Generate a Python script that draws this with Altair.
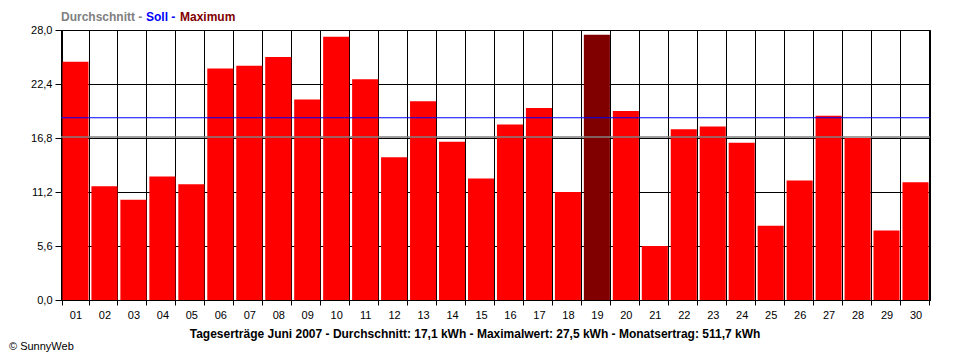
import altair as alt
import pandas as pd

# ---- data ----
days = ["01", "02", "03", "04", "05", "06", "07", "08", "09", "10",
        "11", "12", "13", "14", "15", "16", "17", "18", "19", "20",
        "21", "22", "23", "24", "25", "26", "27", "28", "29", "30"]
kwh = [24.7, 11.8, 10.4, 12.8, 12.0, 24.0, 24.3, 25.2, 20.8, 27.3,
       22.9, 14.8, 20.6, 16.4, 12.6, 18.2, 19.9, 11.2, 27.5, 19.6,
       5.6, 17.7, 18.0, 16.3, 7.7, 12.4, 19.1, 16.8, 7.2, 12.2]
soll_value = [18.9]
avg_value = [16.9]
y_ticks = [0.0, 5.6, 11.2, 16.8, 22.4, 28.0]

legend_parts = ["Durchschnitt - ", "Soll - ", "Maximum"]
legend_colors = ["#808080", "#0000FF", "#800000"]
bottom_title = ["Tageserträge Juni 2007 - Durchschnitt: 17,1 kWh - Maximalwert: 27,5 kWh - Monatsertrag: 511,7 kWh"]
copyright_text = ["© SunnyWeb"]

FONT = "Liberation Sans"

df = pd.DataFrame({"day": days, "kwh": kwh})
max_val = max(kwh)

bars = alt.Chart(df).mark_bar(strokeWidth=0).encode(
    x=alt.X(
        "day:O", sort=days, title=None,
        scale=alt.Scale(paddingInner=0.1, paddingOuter=0.05),
        axis=alt.Axis(labelAngle=0, tickBand="extent", grid=True,
                      tickSize=5, labelPadding=4, domain=True),
    ),
    y=alt.Y(
        "kwh:Q", title=None,
        scale=alt.Scale(domain=[0, 28], nice=False, zero=True),
        axis=alt.Axis(values=y_ticks, grid=True, tickSize=6, labelPadding=3,
                      labelExpr="replace(format(datum.value, '.1f'), '.', ',')"),
    ),
    color=alt.condition(alt.datum.kwh == max_val, alt.value("#800000"), alt.value("#FF0000")),
)

soll_rule = alt.Chart(pd.DataFrame({"v": soll_value})).mark_rule(
    color="#0000FF", strokeWidth=1
).encode(y="v:Q")

avg_rule = alt.Chart(pd.DataFrame({"v": avg_value})).mark_rule(
    color="#808080", strokeWidth=1.5
).encode(y="v:Q")

legend_x = [0, 85, 119]
legend_layers = []
for part, col, xo in zip(legend_parts, legend_colors, legend_x):
    legend_layers.append(
        alt.Chart(pd.DataFrame({"t": [part]})).mark_text(
            align="left", baseline="alphabetic", font=FONT, fontSize=12,
            fontWeight="bold", color=col
        ).encode(text="t:N", x=alt.value(xo), y=alt.value(-9))
    )

bottom = alt.Chart(pd.DataFrame({"t": bottom_title})).mark_text(
    align="center", baseline="alphabetic", font=FONT, fontSize=12,
    fontWeight="bold", color="black"
).encode(text="t:N", x=alt.value(414), y=alt.value(308))

copy_mark = alt.Chart(pd.DataFrame({"t": copyright_text})).mark_text(
    align="left", baseline="middle", font=FONT, fontSize=11, color="black"
).encode(text="t:N", x=alt.value(-52), y=alt.value(317))

chart = alt.layer(bars, soll_rule, avg_rule, *legend_layers, bottom, copy_mark).properties(
    width=869, height=270,
    autosize=alt.AutoSizeParams(type="none"),
    padding={"left": 53, "top": 22, "right": 22, "bottom": 52},
    background="white",
).configure_view(
    stroke="black", strokeWidth=1
).configure_axis(
    gridColor="black", gridOpacity=1, gridWidth=1,
    domainColor="black", tickColor="black", labelColor="black",
    labelFont=FONT, labelFontSize=11,
)

chart.save("out.html", embed_options={"renderer": "svg", "actions": False})
